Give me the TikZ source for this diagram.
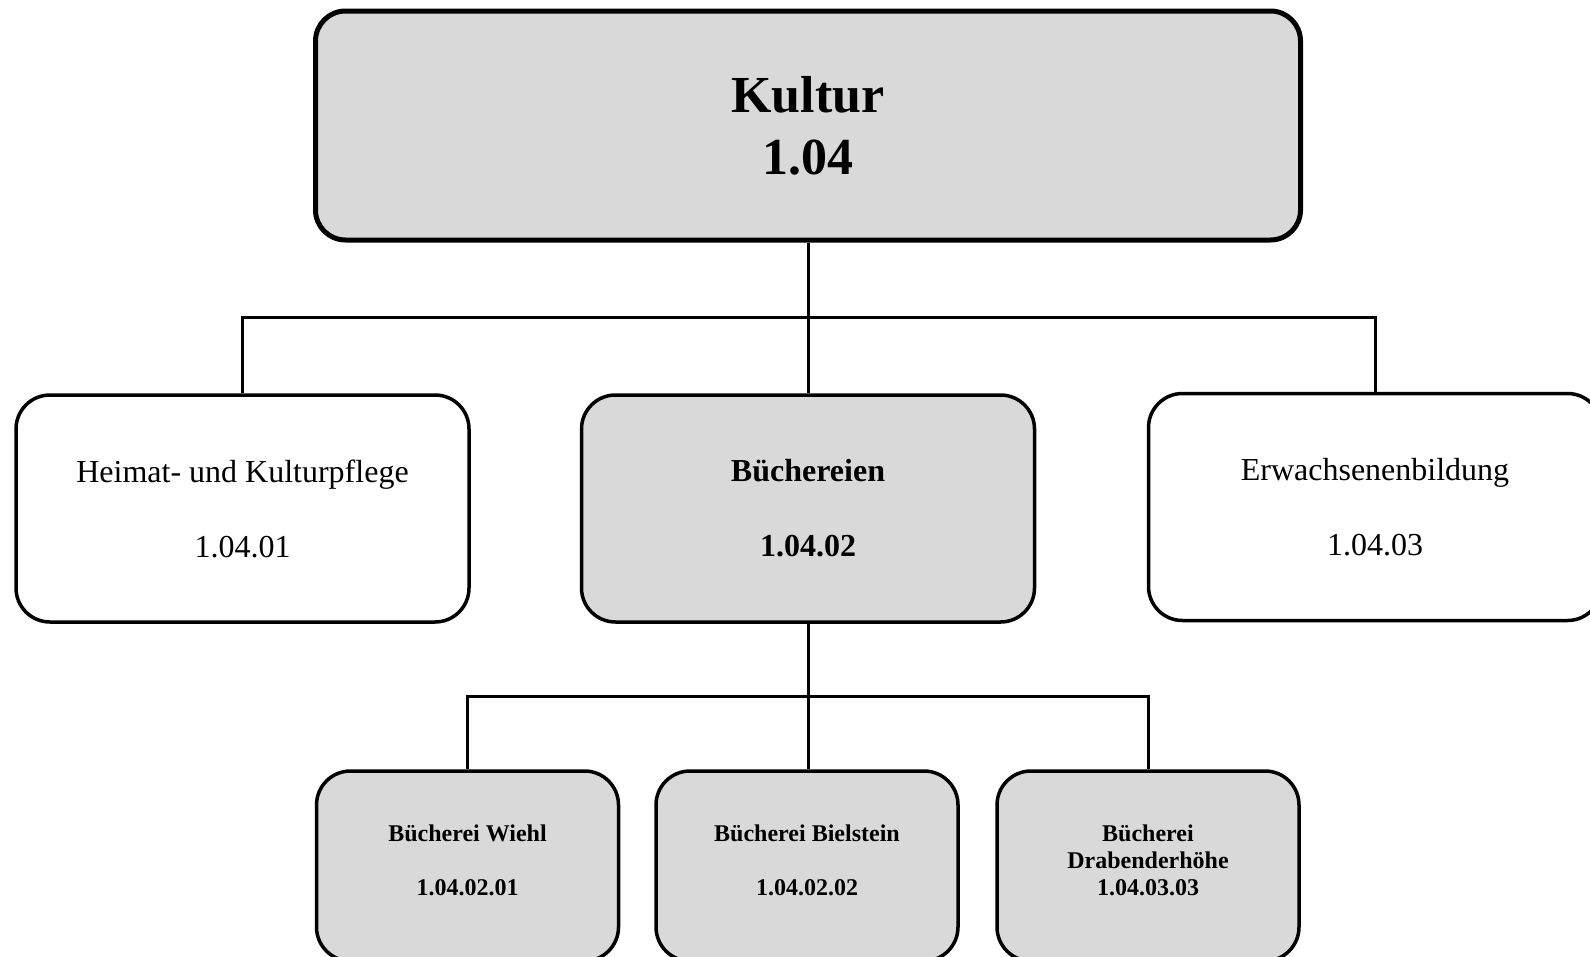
\documentclass[tikz,border=0pt]{standalone}
\usepackage{fontspec}
\setmainfont{Liberation Serif}
\usepackage{xcolor}
\definecolor{boxgray}{RGB}{217,217,217}
\tikzset{%
    unit/.style={draw,line width=3.5pt,rounded corners=34pt,
        minimum width=453pt,minimum height=227pt,inner sep=0pt,align=center,
        font=\fontsize{32}{75}\selectfont},
    unitb/.style={unit,fill=boxgray,font=\bfseries\fontsize{32}{75}\selectfont},
    head/.style={draw,line width=5pt,rounded corners=30pt,fill=boxgray,
        minimum width=985pt,minimum height=229pt,inner sep=0pt,align=center,
        font=\bfseries\fontsize{52}{62}\selectfont},
    sub/.style={draw,line width=3.5pt,rounded corners=34pt,fill=boxgray,
        minimum width=302pt,minimum height=190pt,inner sep=0pt,align=center,
        text depth=12pt,font=\bfseries\fontsize{24}{27}\selectfont},
    link/.style={line width=3pt}
}
\begin{document}
\begin{tikzpicture}[x=1pt,y=-1pt]
\useasboundingbox (0,0) rectangle (1590,956);
\clip (0,0) rectangle (1590,956);
% top level
\node[head] (kultur) at (808,125.5) {Kultur\\1.04};
% second level
\node[unit]  (heimat) at (242.5,508.5) {Heimat- und Kulturpflege\\1.04.01};
\node[unitb] (buech)  at (808,508.5)   {Büchereien\\1.04.02};
\node[unit]  (erw)    at (1375,507)    {Erwachsenenbildung\\1.04.03};
% libraries
\node[sub] (wiehl) at (467.5,866) {Bücherei Wiehl\\[27pt]1.04.02.01};
\node[sub] (biel)  at (807,866)   {Bücherei Bielstein\\[27pt]1.04.02.02};
\node[sub] (drab)  at (1148,866)  {Bücherei\\Drabenderhöhe\\1.04.03.03};
\coordinate (bar1) at (1375,317);
\coordinate (bar2) at (1148,696);
\draw[link] (kultur.south) -- (kultur.south |- buech.north);
\draw[link] (heimat.north) |- (bar1) -- (erw.north);
\draw[link] (buech.south) -- (buech.south |- biel.north);
\draw[link] (wiehl.north) |- (bar2) -- (drab.north);
\end{tikzpicture}
\end{document}
